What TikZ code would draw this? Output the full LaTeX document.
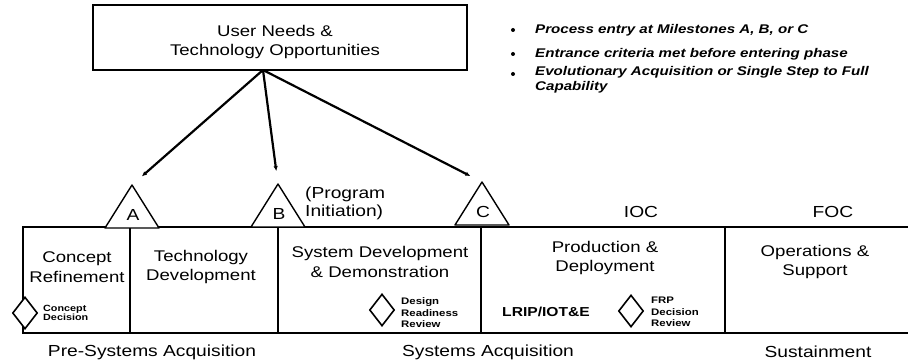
\documentclass[tikz,border=0pt]{standalone}
\usepackage{fontspec}
\setmainfont{Liberation Sans}[FakeStretch=1.2]
\usetikzlibrary{shapes.geometric, arrows.meta}

\begin{document}
\begin{tikzpicture}[
  x=1pt, y=-1pt,
  every node/.style={inner sep=0pt},
  phase/.style={align=center, font=\fontsize{15.5}{19.5}\selectfont},
  caption/.style={font=\fontsize{16}{18}\selectfont},
  note/.style={align=left, anchor=west, font=\fontsize{9.5}{11.5}\selectfont\bfseries},
  point/.style={align=left, anchor=west, font=\fontsize{12.6}{15}\selectfont\bfseries\itshape},
  dot/.style={circle, fill, minimum size=4pt},
  decision/.style={diamond, draw, line width=1.6pt, fill=white, minimum width=25pt, minimum height=32pt},
  milestone/.style={draw, line width=1.4pt, line join=round, fill=white},
  feed/.style={line width=2.2pt, -{Latex[length=5pt,width=4.5pt]}, shorten >=13pt}
]
\useasboundingbox (0,0) rectangle (908,363);

% phase band
\draw[line width=1.5pt] (908,227) -- (23,227) -- (23,333) -- (908,333);
\foreach \x in {130,278,481,725}
  \draw[line width=1.2pt] (\x,227) -- (\x,333);

\node[phase] (cr) at (77,267) {Concept\\Refinement};
\node[phase] (td) at (201,267) {Technology\\Development};
\node[phase] (sdd) at (380,262) {System Development\\\& Demonstration};
\node[phase] (pd) at (605,258) {Production \&\\Deployment};
\node[phase] (os) at (815,262) {Operations \&\\Support};

% user needs
\node[draw, line width=1.2pt, minimum width=374pt, minimum height=65pt] (needs) at (280,37.5) {};
\node[phase] (needstext) at (275,42) {User Needs \&\\Technology Opportunities};
\coordinate (hub) at (263,70);

% milestones A, B, C
\foreach \m/\x/\y in {A/132/228, B/278/227, C/482/225} {
  \draw[milestone] (\x-27,\y) -- (\x,\y-43) -- (\x+27,\y) -- cycle;
  \coordinate (top\m) at (\x,\y-43);
  \node[font=\fontsize{16}{16}\selectfont] (ms\m) at (\x+1,\y-13) {\m};
  \draw[feed] (hub) -- (top\m);
}
\node[caption, align=left, anchor=west] (init) at (305,203) {(Program\\Initiation)};
\node[caption] (ioc) at (641,212) {IOC};
\node[caption] (foc) at (833,212) {FOC};

% decision points
\node[decision] (cd) at (25,313) {};
\node[note, font=\fontsize{9}{9.5}\selectfont\bfseries] (cdtext) at (43,313) {Concept\\Decision};
\node[decision] (drr) at (382,310) {};
\node[note] (drrtext) at (401,313) {Design\\Readiness\\Review};
\node[font=\fontsize{13}{13}\selectfont\bfseries] (lrip) at (546,312) {LRIP/IOT\&E};
\node[decision] (frp) at (631,311) {};
\node[note] (frptext) at (651,312) {FRP\\Decision\\Review};

% bottom captions
\node[caption] (pre) at (152,352) {Pre-Systems Acquisition};
\node[caption] (sys) at (488,352) {Systems Acquisition};
\node[caption] (sus) at (818,352) {Sustainment};

% bullets
\node[dot] (d1) at (513,30) {};
\node[dot] (d2) at (513,54) {};
\node[dot] (d3) at (513,74) {};
\node[point] (p1) at (535,30) {Process entry at Milestones A, B, or C};
\node[point] (p2) at (535,54) {Entrance criteria met before entering phase};
\node[point, anchor=north west] (p3) at (535,66) {Evolutionary Acquisition or Single Step to Full\\Capability};
\end{tikzpicture}
\end{document}
